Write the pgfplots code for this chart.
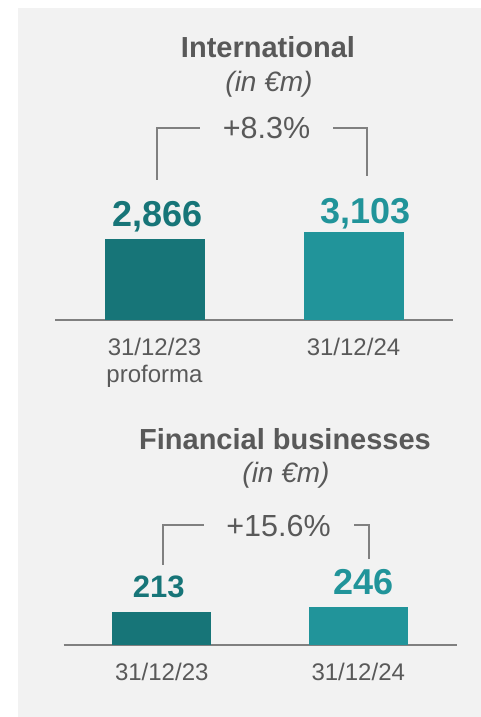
\documentclass[border=0pt]{standalone}
\usepackage{fontspec}
\setmainfont{Liberation Sans}
\usepackage{pgfplots}
\pgfplotsset{compat=1.18}
\definecolor{bgc}{HTML}{F2F2F2}
\definecolor{txt}{HTML}{595959}
\definecolor{tealA}{HTML}{177578}
\definecolor{tealB}{HTML}{21949A}
\definecolor{ln}{HTML}{808080}
\pgfplotsset{
  panel/.style={
    scale only axis, ybar, clip=false, enlargelimits=false,
    xmin=-0.5, xmax=1.5, ymin=0,
    axis x line*=bottom, axis y line=none,
    x axis line style={ln, line width=1.3pt},
    xtick={0,1}, ytick=\empty, major tick length=0pt,
    xticklabel style={font=\fontsize{24}{27}\selectfont, text=txt, align=center, anchor=north, inner sep=0pt, yshift=-18pt},
    /pgf/number format/1000 sep={,},
    /pgf/number format/assume math mode=true,
  }
}
\begin{document}
\begin{tikzpicture}
\path[use as bounding box, fill=white] (0pt,0pt) rectangle (481pt,717pt);
\fill[bgc] (18pt,0pt) rectangle (481pt,709pt);
% ---- top panel texts
\node[anchor=base, text=txt, font=\fontsize{29}{33}\selectfont\bfseries, inner sep=0pt] at (268pt,659pt) {International};
\node[anchor=base, text=txt, font=\fontsize{28}{32}\selectfont\itshape, inner sep=0pt] at (269pt,625pt) {(in €m)};
\node[anchor=base, text=txt, font=\fontsize{30.5}{34}\selectfont, inner sep=0pt] at (266.5pt,578pt) {+8.3\%};
\draw[ln, line width=1.3pt] (157pt,537pt) -- (157pt,589pt) -- (200pt,589pt);
\draw[ln, line width=1.3pt] (333pt,589pt) -- (367pt,589pt) -- (367pt,541pt);
% ---- bottom panel texts
\node[anchor=base, text=txt, font=\fontsize{29}{33}\selectfont\bfseries, inner sep=0pt] at (285pt,267pt) {Financial businesses};
\node[anchor=base, text=txt, font=\fontsize{28}{32}\selectfont\itshape, inner sep=0pt] at (286pt,234pt) {(in €m)};
\node[anchor=base, text=txt, font=\fontsize{30.5}{34}\selectfont, inner sep=0pt] at (278.5pt,180pt) {+15.6\%};
\draw[ln, line width=1.3pt] (163pt,152pt) -- (163pt,192pt) -- (204pt,192pt);
\draw[ln, line width=1.3pt] (354pt,192pt) -- (369pt,192pt) -- (369pt,158pt);

\begin{axis}[panel, at={(55pt,397pt)}, anchor=south west,
  width=398pt, height=100pt, ymax=3540, bar width=100pt,
  xticklabels={{31/12/23\\proforma},{31/12/24}}]
\addplot[fill=tealA, draw=none, bar shift=0pt, nodes near coords,
  every node near coord/.append style={anchor=base, inner sep=0pt, yshift=13pt, xshift=3pt, text=tealA, font=\fontsize{36}{40}\selectfont\bfseries}]
  coordinates {(0,2866)};
\addplot[fill=tealB, draw=none, bar shift=0pt, nodes near coords,
  every node near coord/.append style={anchor=base, inner sep=0pt, yshift=9pt, xshift=12pt, text=tealB, font=\fontsize{36}{40}\selectfont\bfseries}]
  coordinates {(1,3103)};
\end{axis}

\begin{axis}[panel, at={(63.5pt,72pt)}, anchor=south west,
  width=393pt, height=60pt, ymax=384, bar width=99pt,
  xticklabels={{31/12/23},{31/12/24}}]
\addplot[fill=tealA, draw=none, bar shift=0pt, nodes near coords,
  every node near coord/.append style={anchor=base, inner sep=0pt, yshift=14pt, xshift=-3pt, text=tealA, font=\fontsize{31}{35}\selectfont\bfseries}]
  coordinates {(0,213)};
\addplot[fill=tealB, draw=none, bar shift=0pt, nodes near coords,
  every node near coord/.append style={anchor=base, inner sep=0pt, yshift=12pt, xshift=5pt, text=tealB, font=\fontsize{36}{40}\selectfont\bfseries}]
  coordinates {(1,246)};
\end{axis}
\end{tikzpicture}
\end{document}
